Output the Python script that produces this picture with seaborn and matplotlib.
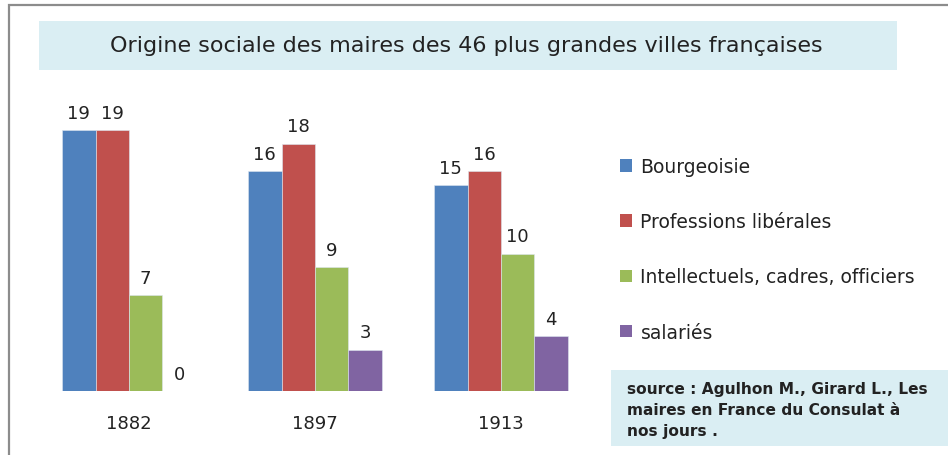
import matplotlib
matplotlib.use("Agg")
import matplotlib.pyplot as plt
import seaborn as sns
import pandas as pd
from matplotlib.patches import Rectangle, Patch

# data
years = ["1882", "1897", "1913"]
categories = ["Bourgeoisie", "Professions libérales",
              "Intellectuels, cadres, officiers", "salariés"]
bourgeoisie = [19, 16, 15]
professions_liberales = [19, 18, 16]
intellectuels = [7, 9, 10]
salaries = [0, 3, 4]
colors = ["#4F81BD", "#C0504D", "#9BBB59", "#8064A2"]

title = "Origine sociale des maires des 46 plus grandes villes françaises"
source = "source : Agulhon M., Girard L., Les\nmaires en France du Consulat à\nnos jours ."

series = [bourgeoisie, professions_liberales, intellectuels, salaries]
rows = []
for cat, vals in zip(categories, series):
    for year, v in zip(years, vals):
        rows.append({"annee": year, "origine": cat, "maires": v})
df = pd.DataFrame(rows)

sns.set_style("white")
plt.rcParams["font.family"] = ["DejaVu Sans"]

W, H = 948, 456
fig = plt.figure(figsize=(W / 100, H / 100), dpi=100)

# axes placed so that category centres land at x=129, 316, 501 px
ax = fig.add_axes([36 / W, 1 - 392 / H, 558 / W, 288.5 / H])
sns.barplot(data=df, x="annee", y="maires", hue="origine", palette=colors,
            width=0.72, saturation=1, edgecolor="#dde6f0", linewidth=0.4,
            legend=False, ax=ax)
ax.set_xlim(-0.5, 2.5)
ax.set_ylim(0, 21)
for c in ax.containers:
    ax.bar_label(c, padding=6, fontsize=13, color="#222222")
ax.set_xlabel("")
ax.set_ylabel("")
ax.set_yticks([])
ax.tick_params(axis="x", length=0, pad=16.5, labelsize=13, labelcolor="#222222")
for s in ax.spines.values():
    s.set_visible(False)
ax.patch.set_alpha(0)

# outer frame (top and left edges visible)
fig.patches.append(Rectangle((9 / W, -0.1), 1.2, 1.1 - 6 / H, transform=fig.transFigure,
                             fill=False, edgecolor="#8c8c8c", linewidth=1.6))

# title box
fig.patches.append(Rectangle((39 / W, 1 - 71 / H), 858 / W, 49 / H, transform=fig.transFigure,
                             facecolor="#DAEEF3", edgecolor="none", zorder=0))
fig.text(466 / W, 1 - 46 / H, title, ha="center", va="center", fontsize=16,
         color="#222222")

# source box
fig.patches.append(Rectangle((611 / W, 1 - 447 / H), 1, 76 / H, transform=fig.transFigure,
                             facecolor="#DAEEF3", edgecolor="none", zorder=0))
fig.text(627 / W, 1 - 411 / H, source, ha="left", va="center", fontsize=11.1,
         fontweight="bold", color="#222222", linespacing=1.5)

handles = [Patch(facecolor=col, edgecolor="none") for col in colors]
fig.legend(handles, categories, loc="upper left", bbox_to_anchor=(620 / W, 1 - 158 / H),
           frameon=False, fontsize=13.5, borderpad=0, borderaxespad=0,
           handlelength=0.64, handleheight=0.64, handletextpad=0.45,
           labelspacing=1.93, labelcolor="#222222")

fig.savefig("out.png", dpi=100)
